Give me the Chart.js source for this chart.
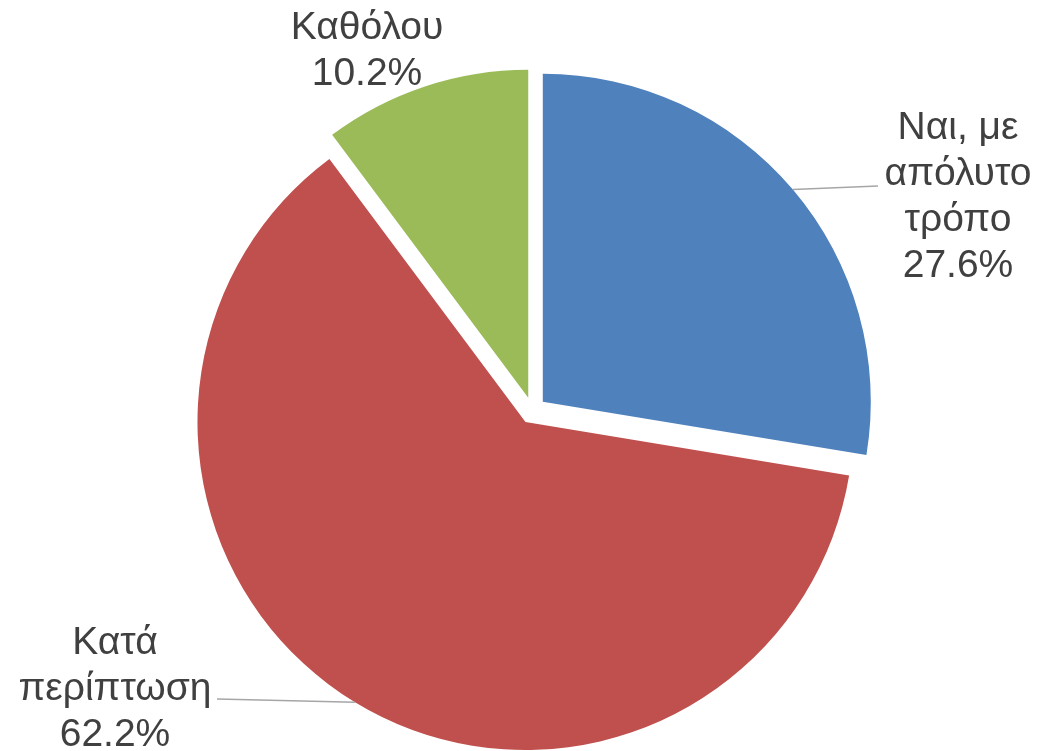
<!DOCTYPE html>
<html>
<head>
<meta charset="utf-8">
<script src="https://cdn.jsdelivr.net/npm/chart.js@4.4.0/dist/chart.umd.min.js"></script>
<style>
  html, body { margin: 0; padding: 0; background: #fff; }
</style>
</head>
<body>
<canvas id="chart" width="1040" height="751"></canvas>
<script>
// data
var categories = ['Ναι, με απόλυτο τρόπο', 'Κατά περίπτωση', 'Καθόλου'];
var values = [27.6, 62.2, 10.2];
var colors = ['#4F81BD', '#C0504D', '#9BBB59'];
var labelLines = [['Ναι, με', 'απόλυτο', 'τρόπο'], ['Κατά', 'περίπτωση'], ['Καθόλου']];

// where each data label sits (first baseline) and where its leader line ends
var labelLayout = [
    { x: 958, y: 139, lineEnd: [878, 186] },
    { x: 115, y: 654, lineEnd: [217, 699] },
    { x: 367, y: 39, lineEnd: null }
];
var explode = 13.5;
var lineHeight = 46;

// push every slice out along its middle angle (like Excel's exploded pie)
var explodePlugin = {
    id: 'explode',
    afterDatasetUpdate: function (chart, args) {
        args.meta.data.forEach(function (arc) {
            var mid = (arc.startAngle + arc.endAngle) / 2;
            arc.x += Math.cos(mid) * explode;
            arc.y += Math.sin(mid) * explode;
        });
    }
};

var labelPlugin = {
    id: 'sliceLabels',
    afterDatasetsDraw: function (chart) {
        var ctx = chart.ctx;
        var arcs = chart.getDatasetMeta(0).data;
        ctx.save();
        arcs.forEach(function (arc, i) {
            var pos = labelLayout[i];
            if (pos.lineEnd) {
                var mid = (arc.startAngle + arc.endAngle) / 2;
                ctx.beginPath();
                ctx.moveTo(arc.x + Math.cos(mid) * arc.outerRadius, arc.y + Math.sin(mid) * arc.outerRadius);
                ctx.lineTo(pos.lineEnd[0], pos.lineEnd[1]);
                ctx.strokeStyle = '#A6A6A6';
                ctx.lineWidth = 1.5;
                ctx.stroke();
            }
            var lines = labelLines[i].concat([values[i].toFixed(1) + '%']);
            ctx.fillStyle = '#404040';
            ctx.font = '39px "Liberation Sans", Arial, sans-serif';
            ctx.textAlign = 'center';
            ctx.textBaseline = 'alphabetic';
            lines.forEach(function (t, k) {
                ctx.fillText(t, pos.x, pos.y + k * lineHeight);
            });
        });
        ctx.restore();
    }
};

new Chart(document.getElementById('chart'), {
    type: 'pie',
    data: {
        labels: categories,
        datasets: [{
            data: values,
            backgroundColor: colors,
            borderWidth: 0,
            clip: false
        }]
    },
    options: {
        responsive: false,
        animation: false,
        radius: 328,
        layout: { padding: { left: 25, top: 70, right: 0, bottom: 0 } },
        plugins: {
            legend: { display: false },
            tooltip: { enabled: false }
        }
    },
    plugins: [explodePlugin, labelPlugin]
});
</script>
</body>
</html>
